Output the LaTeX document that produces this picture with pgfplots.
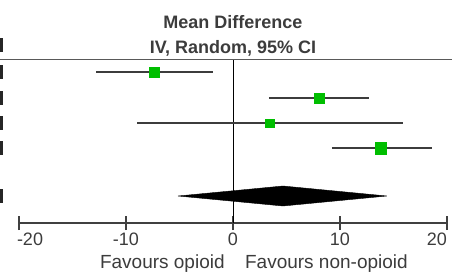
\documentclass[border=0pt]{standalone}
\usepackage{fontspec}
\setmainfont{Liberation Sans}
\usepackage{pgfplots}
\pgfplotsset{compat=1.18}
\definecolor{fgreen}{RGB}{0,190,0}
\definecolor{cigray}{RGB}{60,60,60}
\definecolor{txtgray}{RGB}{60,60,60}
\begin{document}
\begin{tikzpicture}[x=1pt,y=1pt]
\useasboundingbox (0,0) rectangle (452,271);
\begin{axis}[
  at={(19pt,48pt)}, anchor=south west,
  scale only axis, width=428pt, height=163.5pt,
  xmin=-20, xmax=20, ymin=48, ymax=211.5,
  axis x line*=bottom, axis y line=none,
  x axis line style={-, line width=1.3pt, draw=black!75},
  xtick={-20,-10,0,10,20},
  xticklabels={\makebox[0pt][l]{\hspace{-2pt}-20},-10,0,10,\makebox[0pt][r]{20}},
  xtick align=center, major tick length=14pt,
  xtick style={line width=1.3pt, draw=black!75},
  xticklabel style={anchor=base, yshift=-15pt, font=\fontsize{18}{18}\selectfont, text=txtgray},
  clip=false,
]
% cropped text fragments at the left edge
\fill[black!85] (axis cs:-21.78,219) rectangle (axis cs:-21.5,233);
\fill[black!85] (axis cs:-21.78,192) rectangle (axis cs:-21.5,206);
\fill[black!85] (axis cs:-21.78,166) rectangle (axis cs:-21.5,180);
\fill[black!85] (axis cs:-21.78,141) rectangle (axis cs:-21.5,155);
\fill[black!85] (axis cs:-21.78,116) rectangle (axis cs:-21.5,130);
\fill[black!85] (axis cs:-21.78,68) rectangle (axis cs:-21.5,82);
% header rule and zero line
\draw[line width=1.3pt, black!65] (axis cs:-21.8,211.5) -- (axis cs:20.6,211.5);
\draw[line width=1pt, black] (axis cs:0,48) -- (axis cs:0,211.5);
% titles
\node[anchor=base, font=\fontsize{18}{18}\selectfont\bfseries, text=txtgray] at (axis cs:0,242) {Mean Difference};
\node[anchor=base, font=\fontsize{18}{18}\selectfont\bfseries, text=txtgray] at (axis cs:0,218) {IV, Random, 95\% CI};
% study CIs
\addplot[cigray, line width=1.8pt] coordinates {(-12.8,199) (-1.87,199)};
\addplot[cigray, line width=1.8pt] coordinates {(3.36,173) (12.71,173)};
\addplot[cigray, line width=1.8pt] coordinates {(-8.97,148) (15.89,148)};
\addplot[cigray, line width=1.8pt] coordinates {(9.25,123) (18.6,123)};
% study estimates
\addplot[only marks, mark=square*, mark size=5pt, mark options={fill=fgreen, draw=fgreen, line width=0.2pt}] coordinates {(-7.38,199)};
\addplot[only marks, mark=square*, mark size=4.7pt, mark options={fill=fgreen, draw=fgreen, line width=0.2pt}] coordinates {(8.04,173)};
\addplot[only marks, mark=square*, mark size=4.2pt, mark options={fill=fgreen, draw=fgreen, line width=0.2pt}] coordinates {(3.41,148)};
\addplot[only marks, mark=square*, mark size=5.6pt, mark options={fill=fgreen, draw=fgreen, line width=0.2pt}] coordinates {(13.83,123)};
% pooled diamond
\addplot[fill=black, draw=black] coordinates {(-5.14,75) (4.67,85) (14.39,75) (4.67,65)} -- cycle;
% favours labels
\node[anchor=base east, font=\fontsize{19}{19}\selectfont, text=txtgray] at (axis cs:-0.45,3) {Favours opioid};
\node[anchor=base west, font=\fontsize{19}{19}\selectfont, text=txtgray] at (axis cs:0.8,3) {Favours non-opioid};
\end{axis}
\end{tikzpicture}
\end{document}
